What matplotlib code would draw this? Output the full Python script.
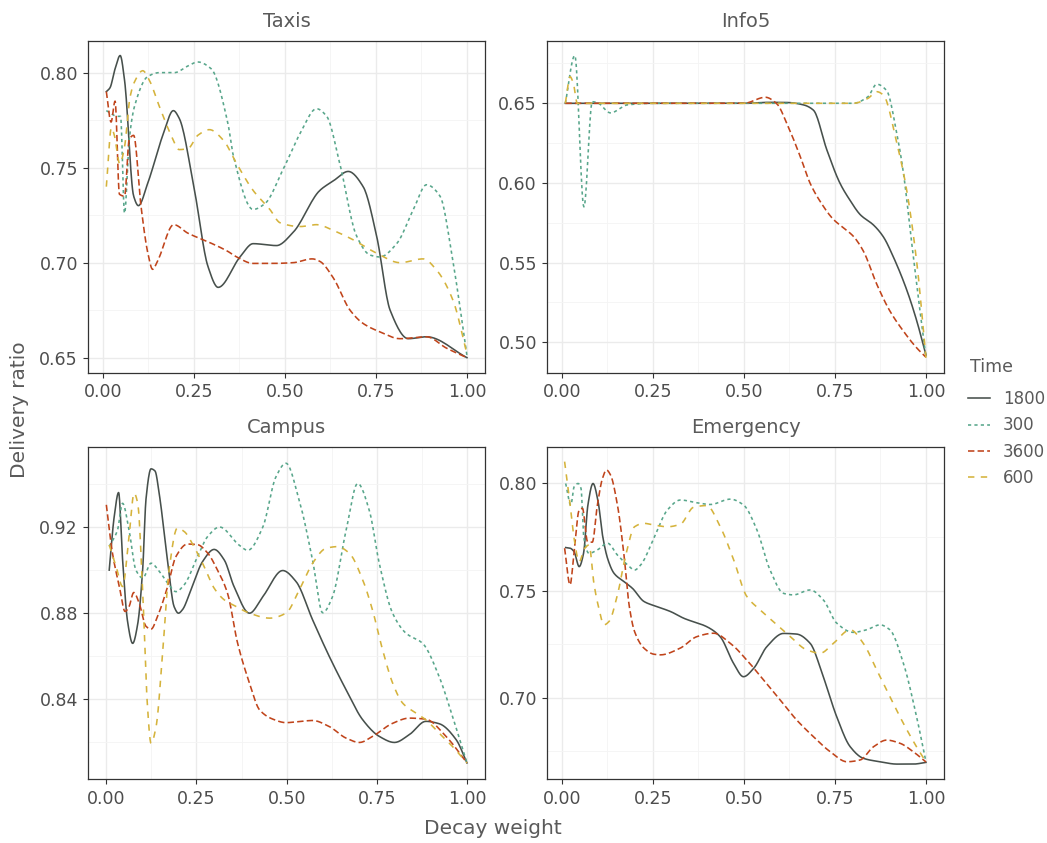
import numpy as np
import matplotlib
matplotlib.use("Agg")
import matplotlib.pyplot as plt
from matplotlib.lines import Line2D
from matplotlib.ticker import MultipleLocator, FormatStrFormatter

# values (Delivery ratio vs Decay weight)
taxis_x_1800 = [0.01, 0.02, 0.034, 0.048, 0.06, 0.085, 0.098, 0.124, 0.165, 0.194, 0.21, 0.252, 0.289, 0.317,
                0.377, 0.413, 0.477, 0.523, 0.596, 0.633, 0.674, 0.715, 0.752, 0.789, 0.839, 0.889, 1.0]
taxis_y_1800 = [0.790, 0.792, 0.802, 0.809, 0.796, 0.735, 0.730, 0.742, 0.767, 0.780, 0.776, 0.738, 0.698, 0.687,
                0.703, 0.710, 0.709, 0.716, 0.738, 0.743, 0.748, 0.740, 0.714, 0.675, 0.660, 0.661, 0.650]
taxis_x_300 = [0.01, 0.041, 0.049, 0.06, 0.073, 0.087, 0.124, 0.156, 0.197, 0.234, 0.261, 0.298, 0.343, 0.359,
               0.413, 0.445, 0.495, 0.542, 0.587, 0.615, 0.651, 0.697, 0.734, 0.761, 0.807, 0.853, 0.889, 0.926,
               0.962, 1.0]
taxis_y_300 = [0.780, 0.777, 0.777, 0.726, 0.765, 0.782, 0.798, 0.800, 0.800, 0.8035, 0.8056, 0.802, 0.774, 0.756,
               0.728, 0.731, 0.749, 0.768, 0.781, 0.777, 0.752, 0.714, 0.704, 0.703, 0.710, 0.728, 0.741, 0.735,
               0.700, 0.651]
taxis_x_3600 = [0.01, 0.023, 0.034, 0.046, 0.06, 0.073, 0.085, 0.105, 0.124, 0.137, 0.151, 0.195, 0.234, 0.289,
                0.343, 0.368, 0.413, 0.467, 0.523, 0.575, 0.596, 0.633, 0.679, 0.715, 0.761, 0.816, 0.889, 0.944, 1.0]
taxis_y_3600 = [0.790, 0.774, 0.785, 0.736, 0.735, 0.765, 0.767, 0.730, 0.705, 0.6965, 0.701, 0.720, 0.7155, 0.711,
                0.706, 0.703, 0.6996, 0.6996, 0.700, 0.702, 0.7007, 0.692, 0.675, 0.668, 0.6636, 0.660, 0.661,
                0.655, 0.650]
taxis_x_600 = [0.01, 0.024, 0.032, 0.047, 0.06, 0.075, 0.087, 0.11, 0.128, 0.156, 0.188, 0.21, 0.234, 0.261,
               0.293, 0.331, 0.368, 0.413, 0.459, 0.487, 0.542, 0.587, 0.633, 0.688, 0.752, 0.816, 0.88, 0.917,
               0.962, 1.0]
taxis_y_600 = [0.740, 0.771, 0.767, 0.752, 0.761, 0.787, 0.795, 0.801, 0.796, 0.782, 0.767, 0.7595, 0.760, 0.767,
               0.770, 0.7645, 0.752, 0.738, 0.728, 0.721, 0.719, 0.720, 0.717, 0.712, 0.705, 0.700, 0.702, 0.696,
               0.680, 0.652]

info5_x_1800 = [0.01, 0.3, 0.5, 0.57, 0.62, 0.664, 0.691, 0.728, 0.764, 0.791, 0.82, 0.856, 0.883, 0.91, 0.947,
                0.974, 1.0]
info5_y_1800 = [0.65, 0.65, 0.65, 0.6506, 0.6505, 0.649, 0.6457, 0.6207, 0.5998, 0.5893, 0.580, 0.5736, 0.5662,
                0.5538, 0.533, 0.514, 0.492]
info5_x_300 = [0.01, 0.036, 0.061, 0.084, 0.098, 0.134, 0.18, 0.25, 0.5, 0.80, 0.84, 0.865, 0.892, 0.92, 0.938,
               0.961, 0.984, 1.0]
info5_y_300 = [0.65, 0.68, 0.585, 0.651, 0.6504, 0.644, 0.649, 0.65, 0.65, 0.65, 0.654, 0.662, 0.658, 0.631,
               0.6065, 0.562, 0.519, 0.4906]
info5_x_3600 = [0.01, 0.3, 0.5, 0.559, 0.591, 0.618, 0.655, 0.682, 0.709, 0.746, 0.773, 0.80, 0.828, 0.865, 0.901,
                0.938, 0.974, 1.0]
info5_y_3600 = [0.65, 0.65, 0.65, 0.6538, 0.6496, 0.6374, 0.6165, 0.5998, 0.5886, 0.5771, 0.5719, 0.5667, 0.5573,
                0.5364, 0.5196, 0.507, 0.4966, 0.4906]
info5_x_600 = [0.01, 0.023, 0.032, 0.043, 0.3, 0.5, 0.80, 0.84, 0.865, 0.883, 0.92, 0.947, 0.975, 1.0]
info5_y_600 = [0.65, 0.6667, 0.6625, 0.65, 0.65, 0.65, 0.65, 0.653, 0.6573, 0.6552, 0.625, 0.5956, 0.5496, 0.49]

campus_x_1800 = [0.008, 0.022, 0.034, 0.045, 0.059, 0.073, 0.087, 0.101, 0.11, 0.124, 0.135, 0.147, 0.17, 0.188,
                 0.2, 0.211, 0.235, 0.267, 0.299, 0.327, 0.354, 0.397, 0.434, 0.489, 0.526, 0.572, 0.618, 0.665,
                 0.711, 0.757, 0.799, 0.84, 0.886, 0.923, 0.97, 1.0]
campus_y_1800 = [0.900, 0.925, 0.936, 0.905, 0.876, 0.866, 0.875, 0.901, 0.933, 0.947, 0.946, 0.935, 0.904, 0.883,
                 0.880, 0.8816, 0.891, 0.904, 0.9096, 0.9047, 0.8924, 0.880, 0.8877, 0.8998, 0.8947, 0.8769, 0.860,
                 0.8444, 0.8305, 0.8228, 0.820, 0.8236, 0.8298, 0.8287, 0.8213, 0.8105]
campus_x_300 = [0.008, 0.031, 0.045, 0.063, 0.082, 0.101, 0.124, 0.147, 0.17, 0.193, 0.216, 0.253, 0.281, 0.314,
                0.369, 0.392, 0.434, 0.47, 0.498, 0.535, 0.572, 0.6, 0.627, 0.665, 0.697, 0.729, 0.757, 0.794,
                0.831, 0.877, 0.923, 0.96, 1.0]
campus_y_300 = [0.911, 0.9186, 0.931, 0.9186, 0.900, 0.8963, 0.9032, 0.8994, 0.894, 0.890, 0.8932, 0.9063, 0.9156,
                0.920, 0.9115, 0.9092, 0.920, 0.9432, 0.9496, 0.9323, 0.9045, 0.8802, 0.8876, 0.9186, 0.9402,
                0.9278, 0.903, 0.8799, 0.8707, 0.866, 0.8505, 0.832, 0.8105]
campus_x_3600 = [0.0, 0.017, 0.036, 0.052, 0.063, 0.076, 0.091, 0.11, 0.124, 0.142, 0.17, 0.193, 0.225, 0.253,
                 0.281, 0.308, 0.336, 0.364, 0.397, 0.425, 0.462, 0.498, 0.535, 0.572, 0.618, 0.665, 0.702, 0.738,
                 0.794, 0.84, 0.886, 0.942, 1.0]
campus_y_3600 = [0.9303, 0.9079, 0.8924, 0.8808, 0.8831, 0.8896, 0.8847, 0.8739, 0.8726, 0.8785, 0.8924, 0.9063,
                 0.9121, 0.9118, 0.9079, 0.9001, 0.8893, 0.8661, 0.8475, 0.8351, 0.8308, 0.8292, 0.8297, 0.8302,
                 0.8274, 0.822, 0.820, 0.8228, 0.8289, 0.8313, 0.8308, 0.8228, 0.8105]
campus_x_600 = [0.008, 0.027, 0.045, 0.063, 0.077, 0.087, 0.101, 0.113, 0.124, 0.138, 0.156, 0.174, 0.197, 0.216,
                0.243, 0.271, 0.299, 0.327, 0.36, 0.397, 0.453, 0.498, 0.535, 0.572, 0.609, 0.641, 0.674, 0.711,
                0.738, 0.766, 0.794, 0.822, 0.859, 0.886, 0.923, 0.96, 1.0]
campus_y_600 = [0.9117, 0.9017, 0.8924, 0.9156, 0.9357, 0.931, 0.8893, 0.8397, 0.8196, 0.8274, 0.8614, 0.9001,
                0.9195, 0.9179, 0.9109, 0.9017, 0.8916, 0.8862, 0.8831, 0.880, 0.8777, 0.880, 0.8908, 0.9032,
                0.9101, 0.9109, 0.9078, 0.8954, 0.8815, 0.863, 0.8475, 0.8382, 0.8336, 0.8305, 0.8243, 0.8181,
                0.8105]

emerg_x_1800 = [0.011, 0.023, 0.034, 0.048, 0.06, 0.072, 0.086, 0.1, 0.112, 0.126, 0.144, 0.171, 0.194, 0.226,
                0.262, 0.299, 0.335, 0.4, 0.435, 0.472, 0.499, 0.527, 0.563, 0.609, 0.645, 0.682, 0.718, 0.755,
                0.792, 0.828, 0.874, 0.92, 0.965, 1.0]
emerg_y_1800 = [0.7701, 0.7698, 0.7682, 0.7612, 0.7674, 0.790, 0.800, 0.7915, 0.7759, 0.765, 0.758, 0.7542,
                0.7511, 0.7449, 0.7425, 0.7402, 0.7371, 0.733, 0.7285, 0.716, 0.7098, 0.7137, 0.7238, 0.730,
                0.7297, 0.7254, 0.7098, 0.6911, 0.6771, 0.6717, 0.6701, 0.669, 0.669, 0.6698]
emerg_x_300 = [0.011, 0.025, 0.034, 0.045, 0.053, 0.061, 0.075, 0.098, 0.126, 0.153, 0.181, 0.2, 0.217, 0.253,
               0.29, 0.326, 0.371, 0.408, 0.463, 0.499, 0.536, 0.572, 0.609, 0.636, 0.682, 0.718, 0.755, 0.80,
               0.837, 0.874, 0.901, 0.938, 0.974, 1.0]
emerg_y_300 = [0.800, 0.7899, 0.7984, 0.800, 0.7977, 0.7744, 0.7674, 0.769, 0.7721, 0.7666, 0.762, 0.7596, 0.762,
               0.7744, 0.7876, 0.7923, 0.791, 0.7902, 0.7927, 0.790, 0.7783, 0.7596, 0.7487, 0.748, 0.7503,
               0.7457, 0.7348, 0.7305, 0.7317, 0.734, 0.7317, 0.7161, 0.6913, 0.670]
emerg_x_3600 = [0.008, 0.023, 0.034, 0.048, 0.057, 0.071, 0.084, 0.098, 0.112, 0.123, 0.134, 0.153, 0.171, 0.185,
                0.2, 0.226, 0.253, 0.271, 0.325, 0.371, 0.417, 0.463, 0.508, 0.554, 0.6, 0.645, 0.691, 0.737,
                0.783, 0.819, 0.856, 0.892, 0.929, 0.965, 1.0]
emerg_y_3600 = [0.7698, 0.7527, 0.7682, 0.7876, 0.7884, 0.7729, 0.7726, 0.790, 0.8024, 0.8063, 0.804, 0.790,
                0.7666, 0.7433, 0.7309, 0.7231, 0.7203, 0.720, 0.7231, 0.7285, 0.7301, 0.7254, 0.7176, 0.7083,
                0.6989, 0.6896, 0.6818, 0.6748, 0.6701, 0.6709, 0.6771, 0.6802, 0.6787, 0.6748, 0.670]
emerg_x_600 = [0.008, 0.02, 0.034, 0.048, 0.063, 0.075, 0.089, 0.102, 0.116, 0.13, 0.153, 0.176, 0.2, 0.226,
               0.253, 0.29, 0.326, 0.362, 0.398, 0.435, 0.472, 0.508, 0.545, 0.591, 0.627, 0.673, 0.71, 0.746,
               0.792, 0.828, 0.865, 0.901, 0.938, 0.974, 1.0]
emerg_y_600 = [0.8102, 0.7946, 0.7744, 0.7635, 0.7697, 0.7713, 0.7527, 0.7418, 0.734, 0.7356, 0.748, 0.7666,
               0.7798, 0.7814, 0.7806, 0.7798, 0.781, 0.7889, 0.7897, 0.7799, 0.7644, 0.7473, 0.741, 0.734,
               0.7286, 0.7223, 0.7208, 0.7254, 0.7317, 0.7254, 0.7129, 0.7005, 0.688, 0.6771, 0.670]

times = ["1800", "300", "3600", "600"]
colors = {"1800": "#47504c", "300": "#58a68b", "3600": "#c0441b", "600": "#d5b33c"}
dashes = {"1800": None, "300": (2, 2), "3600": (4, 2), "600": (4, 4)}

panels = [
    ("Taxis", {"1800": (taxis_x_1800, taxis_y_1800), "300": (taxis_x_300, taxis_y_300),
               "3600": (taxis_x_3600, taxis_y_3600), "600": (taxis_x_600, taxis_y_600)},
     (-0.0395, 1.0495), (0.6421, 0.8168), 0.05),
    ("Info5", {"1800": (info5_x_1800, info5_y_1800), "300": (info5_x_300, info5_y_300),
               "3600": (info5_x_3600, info5_y_3600), "600": (info5_x_600, info5_y_600)},
     (-0.0395, 1.0495), (0.4809, 0.6893), 0.05),
    ("Campus", {"1800": (campus_x_1800, campus_y_1800), "300": (campus_x_300, campus_y_300),
                "3600": (campus_x_3600, campus_y_3600), "600": (campus_x_600, campus_y_600)},
     (-0.05, 1.05), (0.8029, 0.957), 0.04),
    ("Emergency", {"1800": (emerg_x_1800, emerg_y_1800), "300": (emerg_x_300, emerg_y_300),
                   "3600": (emerg_x_3600, emerg_y_3600), "600": (emerg_x_600, emerg_y_600)},
     (-0.0395, 1.0495), (0.6619, 0.8169), 0.05),
]


# smooth curve through the read points (piecewise cubic hermite, no overshoot)
def smooth(x, y, n=16):
    x = np.asarray(x, float)
    y = np.asarray(y, float)
    h = np.diff(x)
    d = np.diff(y) / h
    m = np.zeros_like(y)
    m[0] = d[0]
    m[-1] = d[-1]
    for k in range(1, len(x) - 1):
        if d[k - 1] * d[k] > 0:
            w1 = 2 * h[k] + h[k - 1]
            w2 = h[k] + 2 * h[k - 1]
            m[k] = (w1 + w2) / (w1 / d[k - 1] + w2 / d[k])
    xs, ys = [], []
    t = np.linspace(0, 1, n, endpoint=False)
    for k in range(len(h)):
        h00 = 2 * t**3 - 3 * t**2 + 1
        h10 = t**3 - 2 * t**2 + t
        h01 = -2 * t**3 + 3 * t**2
        h11 = t**3 - t**2
        xs.append(x[k] + t * h[k])
        ys.append(h00 * y[k] + h10 * h[k] * m[k] + h01 * y[k + 1] + h11 * h[k] * m[k + 1])
    xs.append([x[-1]])
    ys.append([y[-1]])
    return np.concatenate(xs), np.concatenate(ys)


plt.rcParams['font.family'] = ['DejaVu Sans']
txt_col = "#5a5a5a"
tick_col = "#4d4d4d"

fig = plt.figure(figsize=(10.47, 8.43), dpi=100)
W, H = 1047, 843
boxes = [(88.3, 40.7), (547.3, 40.7), (88.3, 447.3), (547.3, 447.3)]
pw, ph = 396.7, 332

for (title, series, xlim, ylim, ystep), (px, py) in zip(panels, boxes):
    ax = fig.add_axes([px / W, 1 - (py + ph) / H, pw / W, ph / H])
    for t in times:
        xs, ys = smooth(*series[t])
        ln, = ax.plot(xs, ys, color=colors[t], lw=1.15, zorder=3)
        if dashes[t] is not None:
            ln.set_dashes(dashes[t])
    ax.set_xlim(*xlim)
    ax.set_ylim(*ylim)
    ax.xaxis.set_major_locator(MultipleLocator(0.25))
    ax.xaxis.set_minor_locator(MultipleLocator(0.125))
    ax.yaxis.set_major_locator(MultipleLocator(ystep))
    ax.yaxis.set_minor_locator(MultipleLocator(ystep / 2))
    ax.xaxis.set_major_formatter(FormatStrFormatter('%.2f'))
    ax.yaxis.set_major_formatter(FormatStrFormatter('%.2f'))
    ax.grid(which='major', color='#ebebeb', lw=1.0, zorder=0)
    ax.grid(which='minor', color='#f4f4f4', lw=0.6, zorder=0)
    ax.set_axisbelow(True)
    ax.tick_params(which='major', length=3.5, width=0.8, color='#333333', labelsize=12.5,
                   labelcolor=tick_col, pad=4)
    ax.tick_params(which='minor', length=0)
    for s in ax.spines.values():
        s.set_color('#333333')
        s.set_linewidth(0.9)
    ax.set_title(title, fontsize=14, color=txt_col, pad=10)

fig.text(493 / W, 1 - 829 / H, "Decay weight", fontsize=14.5, color=txt_col, ha='center', va='center')
fig.text(20 / W, 1 - 410 / H, "Delivery ratio", fontsize=14.5, color=txt_col, ha='center', va='center',
         rotation=90)

# legend: title placed on its own, entries below
fig.text(970 / W, 1 - 367 / H, "Time", fontsize=12.5, color=txt_col, ha='left', va='center')
handles = []
for t in times:
    h = Line2D([], [], color=colors[t], lw=1.15)
    if dashes[t] is not None:
        h.set_dashes(dashes[t])
    handles.append(h)
leg = fig.legend(handles, times, loc='upper left', bbox_to_anchor=(968 / W, 1 - 390 / H),
                 frameon=False, fontsize=12, handlelength=1.3, handletextpad=0.8,
                 labelspacing=0.5, borderpad=0, borderaxespad=0)
for tx in leg.get_texts():
    tx.set_color(txt_col)

fig.savefig("out.png", dpi=100)
